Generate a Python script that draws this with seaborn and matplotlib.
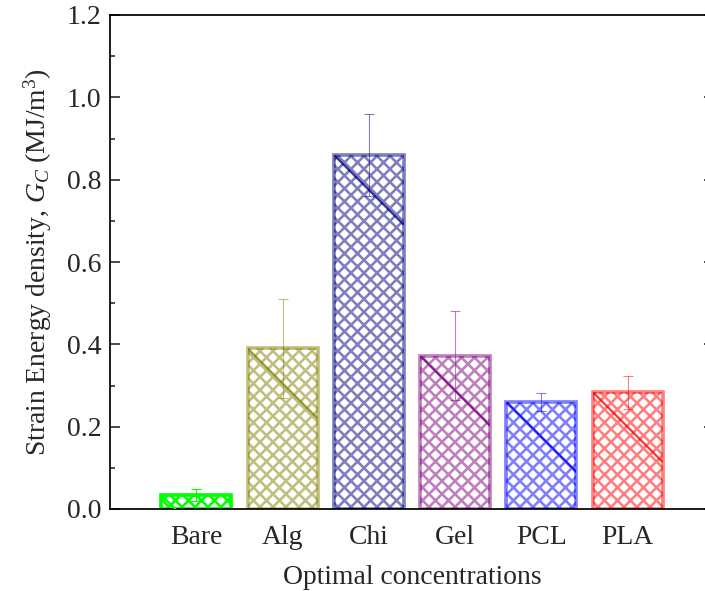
import numpy as np
import pandas as pd
import seaborn as sns
import matplotlib
matplotlib.use("Agg")
import matplotlib.pyplot as plt
from matplotlib.ticker import MultipleLocator
from matplotlib.colors import to_rgba

# Data
materials = ["Bare", "Alg", "Chi", "Gel", "PCL", "PLA"]
energy = [0.034, 0.39, 0.86, 0.372, 0.26, 0.284]
energy_err = [0.015, 0.12, 0.10, 0.108, 0.022, 0.04]
colors = ["#00FF00", "#808000", "#000080", "#800080", "#0000FF", "#FF0000"]
alphas = [1.0, 0.5, 0.5, 0.5, 0.5, 0.5]

sns.set_style("ticks")
plt.rcParams["font.family"] = ["Liberation Serif", "DejaVu Serif"]
plt.rcParams["mathtext.fontset"] = "custom"
plt.rcParams["mathtext.rm"] = "Liberation Serif"
plt.rcParams["mathtext.it"] = "Liberation Serif:italic"
plt.rcParams["hatch.linewidth"] = 2.4

DPI = 78
FS = 25.5
fig = plt.figure(figsize=(705 / DPI, 591 / DPI), dpi=DPI)
ax = fig.add_axes([110 / 705, 82 / 591, 604 / 705, 494 / 591])

df = pd.DataFrame({"material": materials, "energy": energy})
sns.barplot(data=df, x="material", y="energy", hue="material", order=materials,
            palette=colors, width=0.81, errorbar=None, legend=False, ax=ax)

bars = ax.patches
for bar, c, a in zip(bars, colors, alphas):
    ec = to_rgba(c, a)
    bar.set_facecolor("white")
    bar.set_edgecolor(ec)
    bar.set_linewidth(3.4)
    bar.set_hatch("xx")

ax.set_xlim(-1, 6)
ax.set_ylim(0, 1.2)

# error bars
for i, (v, e, c, a) in enumerate(zip(energy, energy_err, colors, alphas)):
    ax.errorbar(i, v, yerr=e, fmt="none", ecolor=to_rgba(c, a),
                elinewidth=1.0, capsize=4.6, capthick=1.0, zorder=5)

# diagonal stroke across each bar from its top-left corner
fig.canvas.draw()
inv = ax.transData.inverted()
for bar, c, a in zip(bars, colors, alphas):
    x0, y1 = bar.get_x(), bar.get_y() + bar.get_height()
    x1 = x0 + bar.get_width()
    p0 = ax.transData.transform((x0, y1))
    p1 = ax.transData.transform((x1, y1))
    wpx = p1[0] - p0[0]
    q = inv.transform((p0[0] + wpx, p0[1] - wpx))
    ln, = ax.plot([x0, q[0]], [y1, q[1]], color=to_rgba(c, min(1.0, a + 0.3)),
                  lw=2.0, zorder=4, solid_capstyle="butt")
    ln.set_clip_path(bar)

ax.yaxis.set_major_locator(MultipleLocator(0.2))
ax.yaxis.set_minor_locator(MultipleLocator(0.1))
ax.set_yticks(np.arange(0, 1.21, 0.2))
ax.set_yticklabels([f"{t:.1f}" for t in np.arange(0, 1.21, 0.2)])

for s in ax.spines.values():
    s.set_linewidth(1.6)
    s.set_color("black")
    s.set_visible(True)

ax.tick_params(axis="y", which="major", direction="in", length=9, width=1.5,
               labelsize=FS, left=True, right=True, pad=8)
ax.tick_params(axis="y", which="minor", direction="in", length=5, width=1.5,
               left=True, right=True)
ax.tick_params(axis="x", which="major", direction="in", length=9, width=1.8,
               labelsize=FS, bottom=True, top=False, pad=15)
ax.tick_params(axis="x", which="minor", bottom=False, top=False)

ax.set_xlabel("Optimal concentrations", fontsize=FS, labelpad=14)
ax.set_ylabel(r"Strain Energy density, $G_C$ (MJ/m$^3$)", fontsize=FS, labelpad=12)

fig.savefig("out.png", dpi=DPI)
